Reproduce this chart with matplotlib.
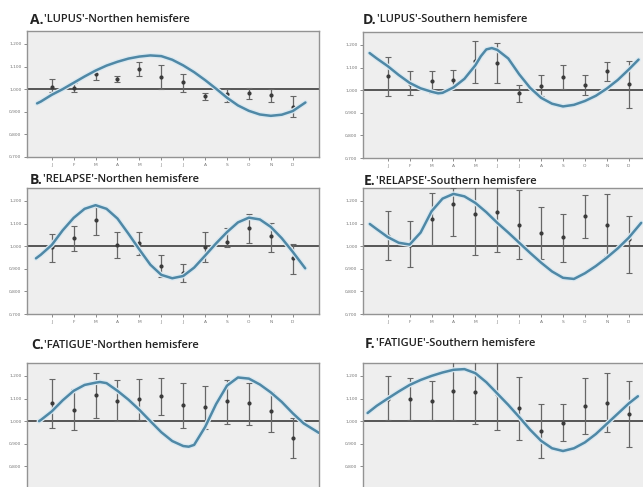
import matplotlib
matplotlib.use('Agg')
import matplotlib.pyplot as plt

months = ['J', 'F', 'M', 'A', 'M', 'J', 'J', 'A', 'S', 'O', 'N', 'D']
month_pos = [1, 2, 3, 4, 5, 6, 7, 8, 9, 10, 11, 12]
ytick_vals = [0.7, 0.8, 0.9, 1.0, 1.1, 1.2]
ytick_labels = ['0,700', '0,800', '0,900', '1,000', '1,100', '1,200']

# A. LUPUS - northern hemisphere
lupus_n_mean = [1.010, 1.003, 1.066, 1.044, 1.091, 1.054, 1.032, 0.969, 0.977, 0.981, 0.974, 0.922]
lupus_n_lo = [0.988, 0.988, 1.040, 1.032, 1.057, 0.999, 0.988, 0.952, 0.944, 0.955, 0.944, 0.875]
lupus_n_hi = [1.043, 1.025, 1.091, 1.057, 1.120, 1.106, 1.069, 0.981, 0.999, 1.006, 0.999, 0.969]
lupus_n_cx = [0.33, 0.5, 1.0, 1.5, 2.0, 2.5, 3.0, 3.5, 4.0, 4.5, 5.0, 5.5, 6.0, 6.5, 7.0,
              7.5, 8.0, 8.5, 9.0, 9.5, 10.0, 10.5, 11.0, 11.5, 12.0, 12.58]
lupus_n_cy = [0.937, 0.945, 0.975, 1.000, 1.028, 1.056, 1.082, 1.104, 1.121, 1.135, 1.144, 1.149,
              1.146, 1.130, 1.105, 1.075, 1.040, 1.002, 0.962, 0.928, 0.904, 0.888, 0.882, 0.887,
              0.903, 0.941]

# B. RELAPSE - northern hemisphere
relapse_n_mean = [0.994, 1.037, 1.117, 1.004, 1.012, 0.913, 0.880, 0.997, 1.019, 1.078, 1.044, 0.946]
relapse_n_lo = [0.931, 0.979, 1.048, 0.949, 0.960, 0.865, 0.840, 0.931, 0.998, 1.012, 0.975, 0.877]
relapse_n_hi = [1.053, 1.088, 1.173, 1.063, 1.063, 0.963, 0.921, 1.063, 1.082, 1.144, 1.103, 1.009]
relapse_n_cx = [0.28, 0.5, 1.0, 1.5, 2.0, 2.5, 3.0, 3.5, 4.0, 4.5, 5.0, 5.5, 6.0, 6.5, 7.0,
                7.5, 8.0, 8.5, 9.0, 9.5, 10.0, 10.5, 11.0, 11.5, 12.0, 12.57]
relapse_n_cy = [0.946, 0.962, 1.005, 1.070, 1.125, 1.165, 1.181, 1.165, 1.122, 1.055, 0.985, 0.918,
                0.873, 0.858, 0.868, 0.905, 0.958, 1.012, 1.062, 1.105, 1.126, 1.118, 1.085, 1.035,
                0.975, 0.902]

# C. FATIGUE - northern hemisphere
fatigue_n_mean = [1.081, 1.050, 1.116, 1.089, 1.099, 1.111, 1.073, 1.061, 1.089, 1.079, 1.046, 0.924]
fatigue_n_lo = [0.969, 0.959, 1.015, 1.000, 1.005, 1.027, 0.969, 0.966, 0.989, 0.982, 0.954, 0.837]
fatigue_n_hi = [1.188, 1.142, 1.211, 1.180, 1.188, 1.192, 1.168, 1.157, 1.180, 1.168, 1.131, 1.012]
fatigue_n_cx = [0.42, 0.5, 1.0, 1.5, 2.0, 2.5, 3.0, 3.2, 3.5, 4.0, 4.5, 5.0, 5.5, 6.0, 6.5, 7.0,
                7.25, 7.5, 8.0, 8.5, 9.0, 9.5, 10.0, 10.5, 11.0, 11.5, 12.0, 12.5, 13.0, 13.2]
fatigue_n_cy = [1.000, 1.005, 1.043, 1.092, 1.134, 1.160, 1.170, 1.173, 1.168, 1.134, 1.095, 1.050,
                1.000, 0.951, 0.912, 0.890, 0.887, 0.895, 0.974, 1.075, 1.157, 1.193, 1.188, 1.162,
                1.127, 1.085, 1.035, 0.990, 0.960, 0.948]

# D. LUPUS - southern hemisphere
lupus_s_mean = [1.062, 1.025, 1.040, 1.047, 1.128, 1.120, 0.988, 1.018, 1.057, 1.022, 1.084, 1.028]
lupus_s_lo = [0.974, 0.977, 0.988, 1.003, 1.032, 1.032, 0.948, 0.974, 1.003, 0.978, 1.040, 0.922]
lupus_s_hi = [1.145, 1.084, 1.084, 1.091, 1.216, 1.208, 1.022, 1.069, 1.110, 1.066, 1.125, 1.131]
lupus_s_cx = [0.17, 0.5, 1.0, 1.5, 2.0, 2.5, 3.0, 3.3, 3.5, 4.0, 4.5, 5.0, 5.25, 5.5, 5.75, 6.0,
              6.5, 7.0, 7.5, 8.0, 8.5, 9.0, 9.5, 10.0, 10.5, 11.0, 11.5, 12.0, 12.45]
lupus_s_cy = [1.164, 1.140, 1.106, 1.067, 1.032, 1.008, 0.993, 0.986, 0.988, 1.012, 1.050, 1.110,
              1.150, 1.180, 1.186, 1.178, 1.140, 1.070, 1.010, 0.966, 0.940, 0.928, 0.935, 0.952,
              0.975, 1.007, 1.045, 1.091, 1.135]

# E. RELAPSE - southern hemisphere
relapse_s_mean = [1.047, 1.004, 1.122, 1.186, 1.142, 1.151, 1.095, 1.057, 1.040, 1.132, 1.095, 1.032]
relapse_s_lo = [0.937, 0.907, 1.004, 1.043, 0.963, 0.975, 0.941, 0.941, 0.930, 1.037, 0.956, 0.883]
relapse_s_hi = [1.157, 1.113, 1.235, 1.257, 1.270, 1.270, 1.250, 1.172, 1.142, 1.225, 1.231, 1.135]
relapse_s_cx = [0.18, 0.5, 1.0, 1.5, 2.0, 2.5, 3.0, 3.5, 4.0, 4.5, 5.0, 5.5, 6.0, 6.5, 7.0,
                7.5, 8.0, 8.5, 9.0, 9.5, 10.0, 10.5, 11.0, 11.5, 12.0, 12.57]
relapse_s_cy = [1.098, 1.075, 1.040, 1.015, 1.007, 1.060, 1.154, 1.210, 1.231, 1.220, 1.191, 1.150,
                1.103, 1.060, 1.015, 0.970, 0.927, 0.888, 0.860, 0.855, 0.880, 0.912, 0.949, 0.990,
                1.037, 1.103]

# F. FATIGUE - southern hemisphere
fatigue_s_mean = [1.100, 1.100, 1.090, 1.133, 1.130, 1.119, 1.060, 0.955, 0.991, 1.066, 1.081, 1.030]
fatigue_s_lo = [1.003, 1.003, 1.003, 1.003, 0.988, 0.961, 0.916, 0.839, 0.910, 0.943, 0.951, 0.887]
fatigue_s_hi = [1.200, 1.190, 1.179, 1.270, 1.270, 1.270, 1.197, 1.075, 1.075, 1.190, 1.215, 1.178]
fatigue_s_cx = [0.08, 0.5, 1.0, 1.5, 2.0, 2.5, 3.0, 3.5, 4.0, 4.5, 5.0, 5.5, 6.0, 6.5, 7.0,
                7.5, 8.0, 8.5, 9.0, 9.5, 10.0, 10.5, 11.0, 11.5, 12.0, 12.42]
fatigue_s_cy = [1.036, 1.068, 1.100, 1.131, 1.160, 1.182, 1.200, 1.215, 1.227, 1.230, 1.212, 1.172,
                1.122, 1.072, 1.018, 0.962, 0.913, 0.880, 0.868, 0.880, 0.906, 0.943, 0.988, 1.033,
                1.078, 1.110]

W, H = 643, 487
fig = plt.figure(figsize=(W / 100, H / 100), dpi=100)

# (letter, name, data..., axes top-left px, title px, show month labels)
panels = [
    ('A', "'LUPUS'-Northen hemisfere", lupus_n_mean, lupus_n_lo, lupus_n_hi, lupus_n_cx, lupus_n_cy,
     (27, 31), (30, 20), True),
    ('B', "'RELAPSE'-Northen hemisfere", relapse_n_mean, relapse_n_lo, relapse_n_hi, relapse_n_cx, relapse_n_cy,
     (27, 188), (30, 180), True),
    ('C', "'FATIGUE'-Northen hemisfere", fatigue_n_mean, fatigue_n_lo, fatigue_n_hi, fatigue_n_cx, fatigue_n_cy,
     (27, 363), (31, 345), False),
    ('D', "'LUPUS'-Southern hemisfere", lupus_s_mean, lupus_s_lo, lupus_s_hi, lupus_s_cx, lupus_s_cy,
     (363, 32), (363, 20), True),
    ('E', "'RELAPSE'-Southern hemisfere", relapse_s_mean, relapse_s_lo, relapse_s_hi, relapse_s_cx, relapse_s_cy,
     (363, 188), (364, 181), True),
    ('F', "'FATIGUE'-Southern hemisfere", fatigue_s_mean, fatigue_s_lo, fatigue_s_hi, fatigue_s_cx, fatigue_s_cy,
     (363, 363), (365, 344), False),
]

ax_w, ax_h = 292, 126
edge = '#939393'
curve_col = '#4f88a6'

titles = []
for letter, name, mean, lo, hi, cx, cy, (left, top), (tx, ty), show_months in panels:
    ax = fig.add_axes([left / W, 1 - (top + ax_h) / H, ax_w / W, ax_h / H])
    ax.set_facecolor('#eeeeee')
    for sp in ax.spines.values():
        sp.set_color(edge)
        sp.set_linewidth(1.0)

    ax.axhline(1.0, color='#555555', lw=1.4, zorder=2)

    yerr = [[m - l for m, l in zip(mean, lo)], [h - m for m, h in zip(mean, hi)]]
    ax.errorbar(month_pos, mean, yerr=yerr, fmt='o', ms=2.0, mfc='#3a3a3a', mec='#3a3a3a',
                ecolor='#666666', elinewidth=0.9, capsize=2.2, capthick=0.8, zorder=3)

    # soft halo, then the fitted curve
    ax.plot(cx, cy, color='#dbe9f1', lw=3.6, solid_capstyle='round', zorder=4)
    ax.plot(cx, cy, color=curve_col, lw=1.8, solid_capstyle='round', zorder=5)

    ax.set_xlim(-0.13, 13.2)
    ax.set_ylim(0.7, 1.257)
    ax.set_xticks(month_pos)
    ax.set_xticklabels(months if show_months else [])
    ax.set_yticks(ytick_vals)
    ax.set_yticklabels(ytick_labels)
    ax.tick_params(axis='both', labelsize=3.2, colors='#777777', length=2, width=0.6, pad=2)

    t1 = fig.text(tx / W, 1 - ty / H, letter + '.', fontsize=10, fontweight='bold',
                  family='Open Sans', color='#222222', va='center', ha='left')
    titles.append((t1, name, ty))

fig.canvas.draw()
renderer = fig.canvas.get_renderer()
for t1, name, ty in titles:
    bb = t1.get_window_extent(renderer)
    fig.text((bb.x1 + 0.5) / W, 1 - ty / H, name, fontsize=8.0, fontweight='semibold',
             family='Open Sans', color='#222222', va='center', ha='left')

fig.savefig('out.png', dpi=100)
